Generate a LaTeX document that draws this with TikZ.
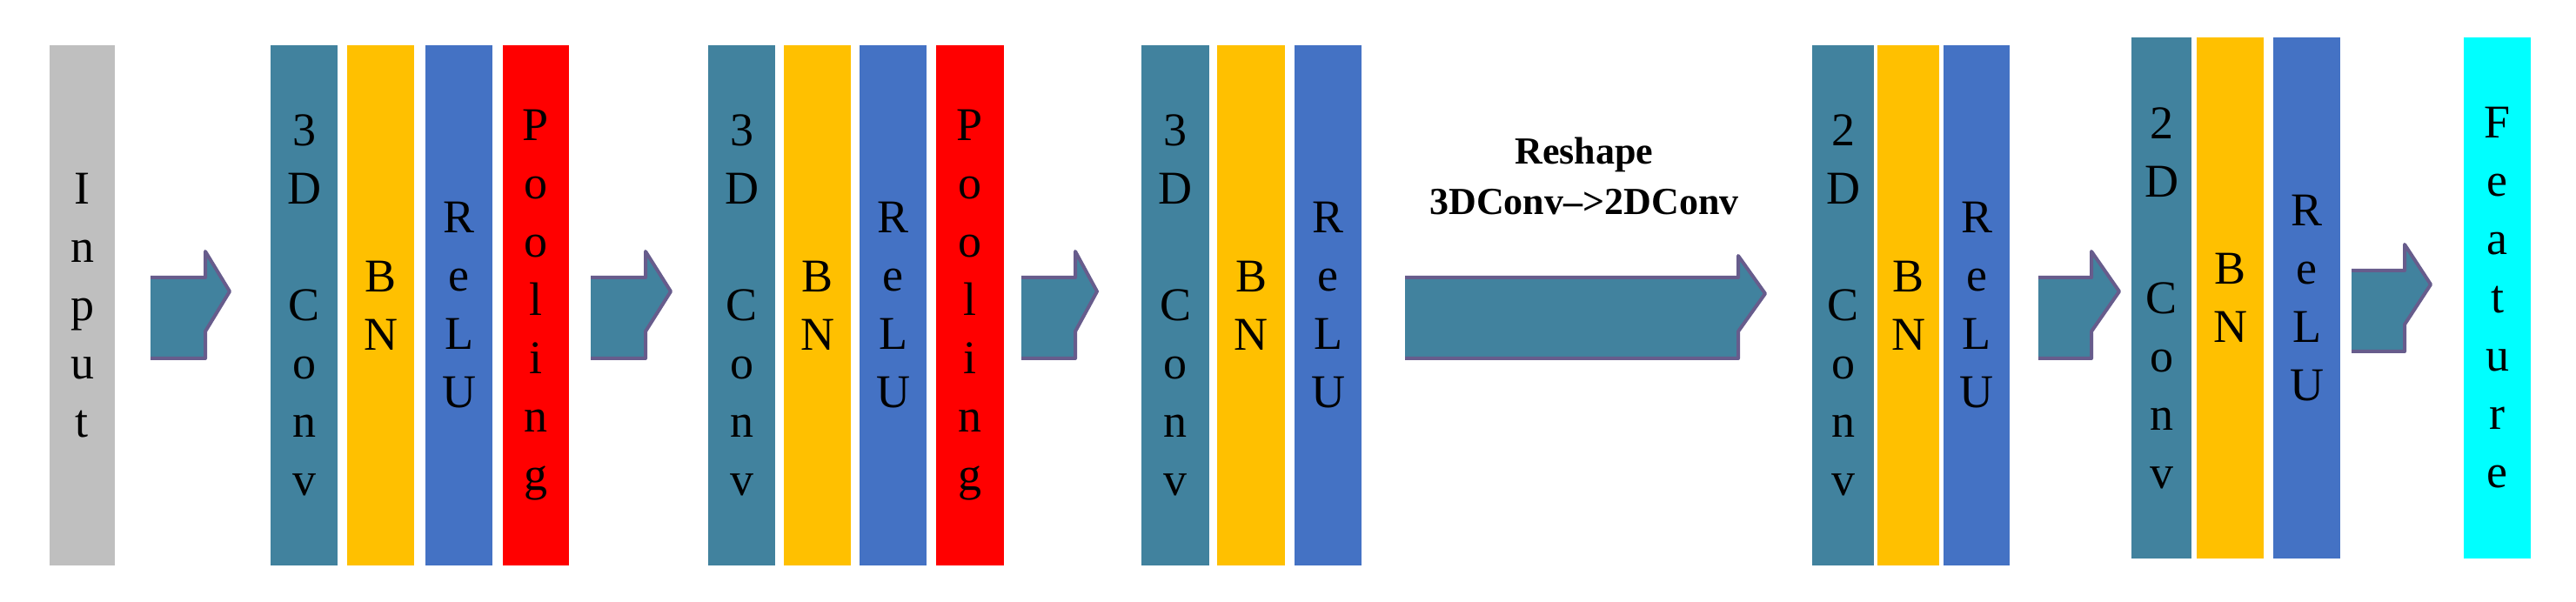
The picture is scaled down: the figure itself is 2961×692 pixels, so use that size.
\documentclass[tikz,border=0pt]{standalone}
\usepackage{fontspec}
\setmainfont{Liberation Serif}
\definecolor{tealc}{HTML}{41829E}
\definecolor{yel}{HTML}{FFC000}
\definecolor{blu}{HTML}{4472C4}
\definecolor{redc}{HTML}{FF0000}
\definecolor{gry}{HTML}{BFBFBF}
\definecolor{cya}{HTML}{00FFFF}
\definecolor{purp}{HTML}{675C8C}
\newcommand\mycol[7]{\node[colbox,fill=#6,minimum width={#3-#2},minimum height={#5-#4}] (#1) at ({(#2+#3)/2},{(#4+#5)/2}) {#7};}
\newcommand\myarr[8]{\fill[tealc] (#2,#5) -- (#3,#5) -- (#3,#7) -- (#4,{(#6+#7)/2}) -- (#3,#6) -- (#3,#8) -- (#2,#8) -- cycle;
\draw[purp,line width=4pt,line join=round] (#2,#5) -- (#3,#5) -- (#3,#7) -- (#4,{(#6+#7)/2}) -- (#3,#6) -- (#3,#8) -- (#2,#8);
\coordinate (#1) at (#2,{(#6+#7)/2});}
\begin{document}
\begin{tikzpicture}[x=1pt,y=-1pt,
 colbox/.style={inner sep=0pt,align=center,font=\fontsize{54}{67}\selectfont}]
\useasboundingbox[fill=white] (0,0) rectangle (2961,692);
\mycol{inp}{57}{132}{52}{650}{gry}{I\\n\\p\\u\\t}
\mycol{ca}{311}{388}{52}{650}{tealc}{3\\D\\~\\C\\o\\n\\v}
\mycol{ba}{399}{476}{52}{650}{yel}{B\\N}
\mycol{ra}{489}{566}{52}{650}{blu}{R\\e\\L\\U}
\mycol{pa}{578}{654}{52}{650}{redc}{P\\o\\o\\l\\i\\n\\g}
\mycol{cb}{814}{891}{52}{650}{tealc}{3\\D\\~\\C\\o\\n\\v}
\mycol{bb}{901}{978}{52}{650}{yel}{B\\N}
\mycol{rb}{988}{1065}{52}{650}{blu}{R\\e\\L\\U}
\mycol{pb}{1076}{1154}{52}{650}{redc}{P\\o\\o\\l\\i\\n\\g}
\mycol{cc}{1312}{1390}{52}{650}{tealc}{3\\D\\~\\C\\o\\n\\v}
\mycol{bc}{1399}{1477}{52}{650}{yel}{B\\N}
\mycol{rc}{1488}{1565}{52}{650}{blu}{R\\e\\L\\U}
\mycol{cd}{2083}{2154}{52}{650}{tealc}{2\\D\\~\\C\\o\\n\\v}
\mycol{bd}{2158}{2229}{52}{650}{yel}{B\\N}
\mycol{rd}{2234}{2310}{52}{650}{blu}{R\\e\\L\\U}
\mycol{ce}{2450}{2519}{43}{642}{tealc}{2\\D\\~\\C\\o\\n\\v}
\mycol{be}{2525}{2602}{43}{642}{yel}{B\\N}
\mycol{re}{2613}{2690}{43}{642}{blu}{R\\e\\L\\U}
\mycol{feat}{2832}{2909}{43}{642}{cya}{F\\e\\a\\t\\u\\r\\e}
\myarr{a1}{173}{236}{264}{319}{381}{289}{412}
\myarr{a2}{679}{742}{771}{319}{381}{289}{412}
\myarr{a3}{1174}{1236}{1261}{319}{381}{289}{412}
\myarr{a4}{1615}{1998}{2029}{319}{381}{294}{412}
\myarr{a5}{2343}{2404}{2436}{319}{381}{289}{412}
\myarr{a6}{2703}{2764}{2794}{311}{373}{281}{404}
\node[font=\bfseries\fontsize{44}{58}\selectfont,align=center] (lbl) at (1821,202) {Reshape\\3DConv-->2DConv};
\end{tikzpicture}
\end{document}
